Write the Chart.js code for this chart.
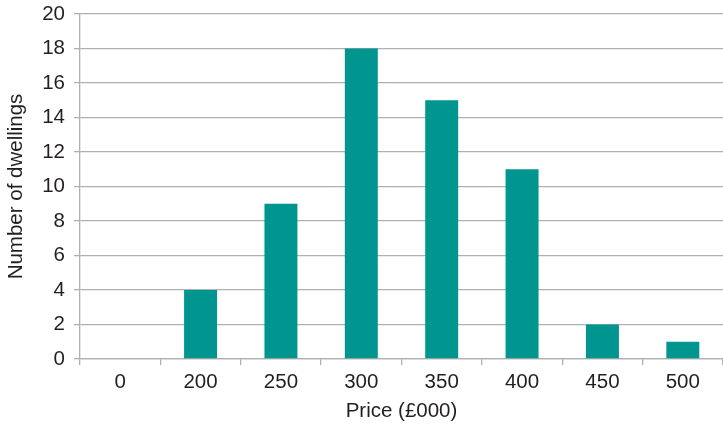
<!DOCTYPE html>
<html>
<head>
<meta charset="utf-8">
<script src="https://cdn.jsdelivr.net/npm/chart.js@4/dist/chart.umd.min.js"></script>
<style>
  html, body { margin: 0; padding: 0; background: #ffffff; }
  #wrap { width: 723px; height: 429px; }
</style>
</head>
<body>
<div id="wrap"><canvas id="c" width="723" height="429"></canvas></div>
<script>
// Price bands (£000) and number of dwellings in each
const priceBands = ['0', '200', '250', '300', '350', '400', '450', '500'];
const dwellings = [0, 4, 9, 18, 15, 11, 2, 1];
const yTicks = [0, 2, 4, 6, 8, 10, 12, 14, 16, 18, 20];

const textColor = '#231f20';
const gridColor = '#b0b0b0';
const barColor = '#00958f';
const fontFamily = '"Liberation Sans", Arial, Helvetica, sans-serif';
const fontSize = 20.5;

new Chart(document.getElementById('c'), {
  type: 'bar',
  data: {
    labels: priceBands,
    datasets: [{
      data: dwellings,
      backgroundColor: barColor,
      borderWidth: 0,
      barPercentage: 0.41,
      categoryPercentage: 1.0
    }]
  },
  options: {
    responsive: false,
    animation: false,
    layout: { padding: { top: 14, right: 0, left: 0, bottom: 0 } },
    plugins: { legend: { display: false }, tooltip: { enabled: false } },
    scales: {
      x: {
        grid: {
          display: true,
          drawOnChartArea: false,
          drawTicks: true,
          tickLength: 6,
          color: gridColor,
          lineWidth: 1.3,
          offset: true
        },
        border: { display: true, color: gridColor, width: 1.3 },
        ticks: { color: textColor, font: { family: fontFamily, size: fontSize }, padding: 5 },
        title: {
          display: true,
          text: 'Price (£000)',
          color: textColor,
          font: { family: fontFamily, size: fontSize },
          padding: { top: 0, bottom: 5 }
        },
        afterFit: (scale) => { scale.height = 70; }
      },
      y: {
        min: 0,
        max: 20,
        afterBuildTicks: (scale) => { scale.ticks = yTicks.map(v => ({ value: v })); },
        grid: {
          color: gridColor,
          lineWidth: 1.3,
          drawTicks: true,
          tickLength: 6
        },
        border: { display: true, color: gridColor, width: 1.3 },
        ticks: { color: textColor, font: { family: fontFamily, size: fontSize }, padding: 9 },
        title: {
          display: true,
          text: 'Number of dwellings',
          color: textColor,
          font: { family: fontFamily, size: fontSize },
          padding: { top: 4, bottom: 0 }
        },
        afterFit: (scale) => {
          scale.width = 80;
          scale.paddingTop = 0;
          scale.paddingBottom = 0;
        }
      }
    }
  }
});
</script>
</body>
</html>
